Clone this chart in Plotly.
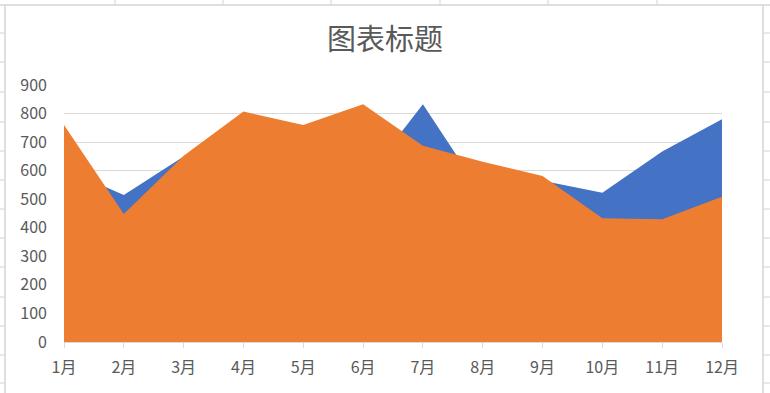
import plotly.graph_objects as go

months = ["1月", "2月", "3月", "4月", "5月", "6月", "7月", "8月", "9月", "10月", "11月", "12月"]
series1 = [607, 515, 650, 620, 540, 562, 833, 515, 565, 523, 667, 780]
series2 = [760, 448, 652, 807, 760, 833, 687, 631, 581, 433, 430, 509]
y_ticks = [0, 100, 200, 300, 400, 500, 600, 700, 800, 900]
title_text = "图表标题"

W, H = 770, 393
ML, MR, MT, MB = 64, 48, 85, 51
PW, PH = W - ML - MR, H - MT - MB


def px_x(x):
    return (x - ML) / PW


def px_y(y):
    return 1 - (y - MT) / PH


FONT = "Noto Sans CJK SC, Noto Sans, sans-serif"
GRAY = "#595959"

fig = go.Figure()
fig.add_trace(go.Scatter(x=months, y=series1, name="系列1", mode="lines",
                         line=dict(width=0, color="#4472C4"),
                         fill="tozeroy", fillcolor="#4472C4", hoverinfo="x+y"))
fig.add_trace(go.Scatter(x=months, y=series2, name="系列2", mode="lines",
                         line=dict(width=0, color="#ED7D31"),
                         fill="tozeroy", fillcolor="#ED7D31", hoverinfo="x+y"))

shapes = []
cell = "#D4D4D4"
# chart area border
shapes.append(dict(type="line", xref="paper", yref="paper", x0=px_x(5), x1=px_x(5), y0=px_y(5), y1=px_y(H + 5),
                   line=dict(color=cell, width=1.5)))
shapes.append(dict(type="line", xref="paper", yref="paper", x0=px_x(763), x1=px_x(763), y0=px_y(5), y1=px_y(H + 5),
                   line=dict(color=cell, width=1.5)))
shapes.append(dict(type="line", xref="paper", yref="paper", x0=px_x(-5), x1=px_x(W + 5), y0=px_y(5), y1=px_y(5),
                   line=dict(color=cell, width=1.5)))
# spreadsheet cell lines outside the chart
for cx in [115, 223, 331, 440, 548, 657]:
    shapes.append(dict(type="line", xref="paper", yref="paper", x0=px_x(cx), x1=px_x(cx), y0=px_y(-5), y1=px_y(5),
                       line=dict(color=cell, width=1)))
for ry in [33, 62, 92, 122, 151, 180, 209, 238, 267, 297, 326, 355, 383]:
    shapes.append(dict(type="line", xref="paper", yref="paper", x0=px_x(-5), x1=px_x(5), y0=px_y(ry), y1=px_y(ry),
                       line=dict(color=cell, width=1)))
    shapes.append(dict(type="line", xref="paper", yref="paper", x0=px_x(763), x1=px_x(W + 5), y0=px_y(ry), y1=px_y(ry),
                       line=dict(color=cell, width=1)))

fig.update_layout(
    width=W, height=H,
    margin=dict(l=ML, r=MR, t=MT, b=MB, pad=0),
    paper_bgcolor="white", plot_bgcolor="white",
    showlegend=False,
    font=dict(family=FONT, color=GRAY, size=16),
    title=dict(text=title_text, x=0.5, xanchor="center", y=1 - 40 / H, yanchor="middle",
               font=dict(family=FONT, size=29, color=GRAY)),
    xaxis=dict(type="category", range=[0, 11], showgrid=False, zeroline=False,
               showline=True, linecolor="#D9D9D9", linewidth=1,
               ticks="outside", ticklen=5, tickcolor="#D9D9D9", ticklabelstandoff=6,
               tickfont=dict(size=16, color=GRAY)),
    yaxis=dict(range=[0, 900], tickvals=y_ticks, showgrid=True, gridcolor="#D9D9D9", gridwidth=1,
               zeroline=False, showline=False, ticks="", ticklabelstandoff=16,
               tickfont=dict(size=16, color=GRAY)),
    shapes=shapes,
)

fig.write_html("out.html", config={"displayModeBar": False},
               post_script="document.body.style.margin='0';document.body.style.overflow='hidden';")
